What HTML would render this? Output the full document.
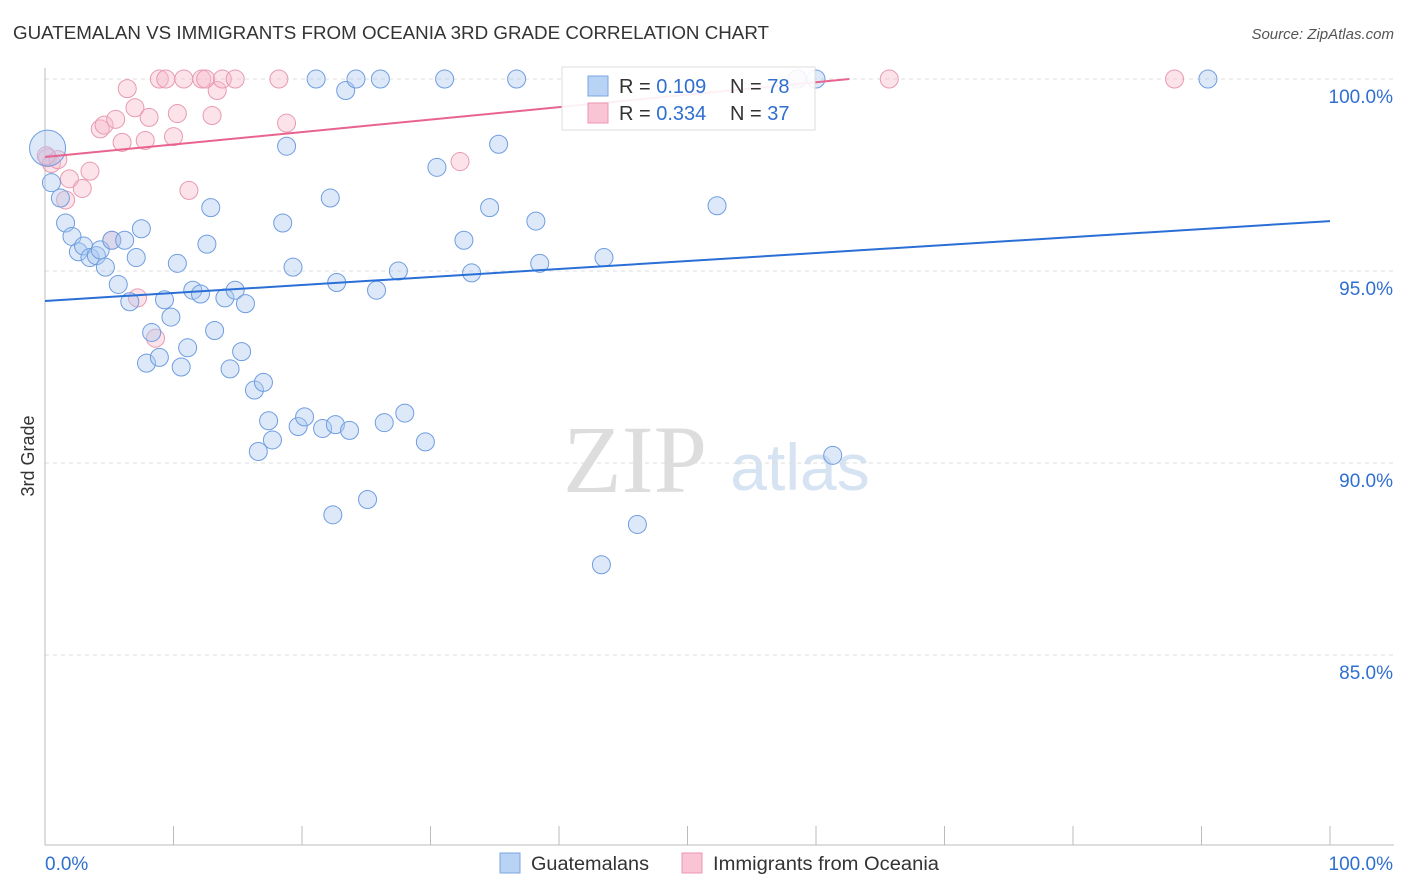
<!DOCTYPE html>
<html><head><meta charset="utf-8">
<style>
body{margin:0;background:#fff;font-family:"Liberation Sans",sans-serif;}
svg{display:block}
</style></head>
<body>
<svg id="chart" width="1406" height="892" xmlns="http://www.w3.org/2000/svg" font-family="Liberation Sans, sans-serif">
<text x="13" y="39" font-size="18" fill="#333" textLength="756" lengthAdjust="spacingAndGlyphs">GUATEMALAN VS IMMIGRANTS FROM OCEANIA 3RD GRADE CORRELATION CHART</text>
<text x="1394" y="39" font-size="15" fill="#555" text-anchor="end" font-style="italic">Source: ZipAtlas.com</text>
<text transform="translate(34,456) rotate(-90)" font-size="18" fill="#333" text-anchor="middle">3rd Grade</text>
<g>
<text x="635" y="492" font-size="96" fill="#ddd" font-family="Liberation Serif, serif" text-anchor="middle">ZIP</text>
<text x="800" y="490" font-size="66" fill="#d6e3f3" text-anchor="middle">atlas</text>
</g>
<g id="grid"></g>
<g id="axes"></g>
<g id="pink"></g>
<g id="blue"></g>
<g id="lines"></g>
<g>
<rect x="562" y="67" width="253" height="63" fill="#fff" fill-opacity="0.9" stroke="#ddd"/>
<rect x="588" y="76" width="20" height="20" fill="#b9d3f5" stroke="#7aa5e0"/>
<rect x="588" y="103" width="20" height="20" fill="#f9c4d3" stroke="#ec96b0"/>
<text x="619" y="93" font-size="20" fill="#333">R = <tspan fill="#2f6fd0">0.109</tspan><tspan x="730">N = </tspan><tspan fill="#2f6fd0">78</tspan></text>
<text x="619" y="120" font-size="20" fill="#333">R = <tspan fill="#2f6fd0">0.334</tspan><tspan x="730">N = </tspan><tspan fill="#2f6fd0">37</tspan></text>
</g>
<g>
<rect x="500" y="853" width="20" height="20" fill="#b9d3f5" stroke="#7aa5e0"/>
<text x="531" y="870" font-size="19" fill="#333" textLength="118" lengthAdjust="spacingAndGlyphs">Guatemalans</text>
<rect x="682" y="853" width="20" height="20" fill="#f9c4d3" stroke="#ec96b0"/>
<text x="713" y="870" font-size="19" fill="#333" textLength="226" lengthAdjust="spacingAndGlyphs">Immigrants from Oceania</text>
</g>
</svg>
<script>
const xTicks=[0,10,20,30,40,50,60,70,80,90,100];
const yTicks=[85,90,95,100];
const yTickLabels=["85.0%","90.0%","95.0%","100.0%"];
const blueX=[0.2,0.5,1.2,1.6,2.1,2.6,3.0,3.5,4.0,4.3,4.7,5.2,5.7,6.2,6.6,7.1,7.5,8.3,7.9,8.9,9.3,9.8,10.3,10.6,11.1,11.5,12.1,12.6,12.9,13.2,14.0,14.4,14.8,15.3,15.6,16.3,16.6,17.0,17.4,17.7,18.5,18.8,19.3,19.7,20.2,21.1,21.6,22.2,22.4,22.6,22.7,23.4,23.7,24.2,25.1,25.8,26.1,26.4,27.5,28.0,29.6,30.5,31.1,32.6,33.2,34.6,35.3,36.7,38.2,38.5,43.3,43.5,46.1,52.3,58.5,60.0,61.3,90.5];
const blueY=[98.2,97.3,96.9,96.25,95.9,95.5,95.65,95.35,95.4,95.55,95.1,95.8,94.65,95.8,94.2,95.35,96.1,93.4,92.6,92.75,94.25,93.8,95.2,92.5,93.0,94.5,94.4,95.7,96.65,93.45,94.3,92.45,94.5,92.9,94.15,91.9,90.3,92.1,91.1,90.6,96.25,98.25,95.1,90.95,91.2,100,90.9,96.9,88.65,91.0,94.7,99.7,90.85,100,89.05,94.5,100,91.05,95.0,91.3,90.55,97.7,100,95.8,94.95,96.65,98.3,100,96.3,95.2,87.35,95.35,88.4,96.7,100,100,90.2,100];
const pinkX=[0.2,0.5,1.0,1.6,1.9,2.9,3.5,4.3,4.6,5.2,5.5,6.0,6.4,7.0,7.2,7.8,8.1,8.6,8.9,9.4,10.0,10.3,10.8,11.2,12.2,12.5,13.0,13.4,13.8,14.8,18.2,18.8,32.3,58.6,65.7,87.9,0.1];
const pinkY=[97.95,97.8,97.9,96.85,97.4,97.15,97.6,98.7,98.8,95.8,98.95,98.35,99.75,99.25,94.3,98.4,99.0,93.25,100,100,98.5,99.1,100,97.1,100,100,99.05,99.7,100,100,100,98.85,97.85,100,100,100,98.0];
const blueTrend=[0,94.22,100,96.3];
const pinkTrend=[0,97.97,62.6,100];
const NS="http://www.w3.org/2000/svg";
const X=v=>45+v*12.85;
const Y=v=>79+(100-v)*38.4;
function mk(tag,attrs,parent){const e=document.createElementNS(NS,tag);for(const k in attrs)e.setAttribute(k,attrs[k]);document.getElementById(parent).appendChild(e);return e;}
yTicks.forEach((t,i)=>{
 const g=mk('line',{x1:45,x2:1394,y1:Y(t),y2:Y(t),stroke:'#ddd','stroke-dasharray':'4,4'},'grid');
 
 
 const l=mk('text',{x:1393,y:Y(t)+24,'font-size':19,fill:'#2f6fd0','text-anchor':'end'},'grid');
 l.textContent=yTickLabels[i];
 
 
});
mk('line',{x1:45,x2:45,y1:68,y2:845,stroke:'#bbb'},'axes');
mk('line',{x1:45,x2:1394,y1:845,y2:845,stroke:'#bbb'},'axes');
xTicks.forEach(t=>{const e=mk('line',{x1:X(t),x2:X(t),y1:826,y2:845,stroke:'#bbb'},'axes');
 
 });
const x0=mk('text',{x:45,y:870,'font-size':19,fill:'#2f6fd0'},'axes');x0.textContent='0.0%';


const x1=mk('text',{x:1393,y:870,'font-size':19,fill:'#2f6fd0','text-anchor':'end'},'axes');x1.textContent='100.0%';


pinkX.forEach((v,i)=>{const c=mk('circle',{cx:X(v),cy:Y(pinkY[i]),r:9,fill:'#f7b8cb','fill-opacity':0.4,stroke:'#e89ab2','stroke-width':1},'pink');
 
 });
blueX.forEach((v,i)=>{const c=mk('circle',{cx:X(v),cy:Y(blueY[i]),r:i===0?18:9,fill:'#a9c7f0','fill-opacity':0.4,stroke:'#6f9de0','stroke-width':1},'blue');
 
 });
const bl=mk('line',{x1:X(blueTrend[0]),y1:Y(blueTrend[1]),x2:X(blueTrend[2]),y2:Y(blueTrend[3]),stroke:'#2a6fd6','stroke-width':2},'lines');


const pl=mk('line',{x1:X(pinkTrend[0]),y1:Y(pinkTrend[1]),x2:X(pinkTrend[2]),y2:Y(pinkTrend[3]),stroke:'#e8648e','stroke-width':2},'lines');


</script>
</body></html>
